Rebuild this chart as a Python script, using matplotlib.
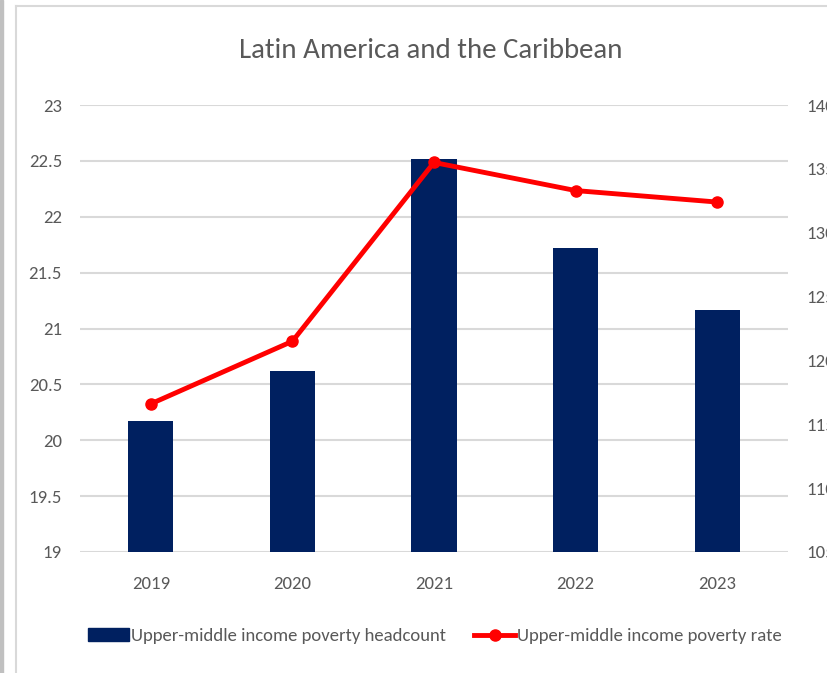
import matplotlib
matplotlib.use("Agg")
import matplotlib.pyplot as plt
from matplotlib.lines import Line2D
from matplotlib.patches import Rectangle

# dane
years = ["2019", "2020", "2021", "2022", "2023"]
headcount = [20.17, 20.62, 22.52, 21.72, 21.17]
rate = [116.6, 121.5, 135.5, 133.3, 132.4]
left_ticks = [19, 19.5, 20, 20.5, 21, 21.5, 22, 22.5, 23]
right_ticks = [105, 110, 115, 120, 125, 130, 135, 140]

plt.rcParams['font.family'] = ['Carlito', 'DejaVu Sans']
grey = '#595959'

fig = plt.figure(figsize=(8.28, 6.73), dpi=100)
W, H = 828, 673
ax = fig.add_axes([80 / W, 1 - 552 / H, 708 / W, 447 / H])
ax2 = ax.twinx()

x = list(range(len(years)))
ax.bar(x, headcount, width=0.32, color='#002060', zorder=3)
ax.set_ylim(19, 23)
ax.set_xlim(-0.5, 4.5)
ax.set_yticks(left_ticks)
ax.set_yticklabels([f"{t:g}" for t in left_ticks])
ax.set_xticks(x)
ax.set_xticklabels(years)
ax.grid(axis='y', color='#d9d9d9', lw=1.5, zorder=0)
ax.set_axisbelow(True)

ax2.plot(x, rate, color='#ff0000', lw=3.5, marker='o', ms=8, zorder=4)
ax2.set_ylim(105, 140)
ax2.set_yticks(right_ticks)

for a in (ax, ax2):
    for s in a.spines.values():
        s.set_visible(False)
    a.tick_params(length=0, labelsize=13.5, colors=grey)
ax.tick_params(axis='y', pad=13)
ax.tick_params(axis='x', pad=17)
ax2.tick_params(axis='y', pad=13)
ax.set_zorder(1)
ax2.set_zorder(2)
ax.patch.set_visible(False)

fig.text(431 / W, 1 - 50 / H, "Latin America and the Caribbean", ha='center', va='center',
         fontsize=20.8, color=grey)

# legenda
handles = [Rectangle((0, 0), 1, 1, color='#002060'),
           Line2D([], [], color='#ff0000', lw=3.5, marker='o', ms=8)]
labels = ["Upper-middle income poverty headcount", "Upper-middle income poverty rate"]
fig.legend(handles, labels, loc='center', bbox_to_anchor=(435 / W, 1 - 636 / H), ncol=2,
           frameon=False, fontsize=13.5, labelcolor=grey, handlelength=2.2, handletextpad=0.1,
           columnspacing=1.5)

# ramka
fig.add_artist(Line2D([16 / W, 16 / W], [0, 1 - 6 / H], color='#d9d9d9', lw=1.5))
fig.add_artist(Line2D([16 / W, 1], [1 - 6 / H, 1 - 6 / H], color='#d9d9d9', lw=1.5))
fig.add_artist(Rectangle((0, 0), 3 / W, 1, color='#c0c0c0', transform=fig.transFigure))

fig.savefig("out.png", dpi=100)
